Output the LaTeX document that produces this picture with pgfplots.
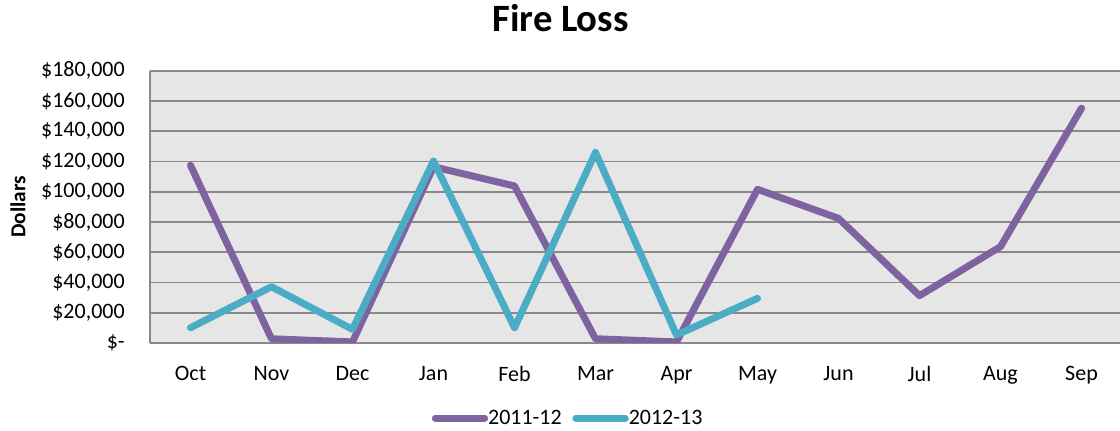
\documentclass[border=0pt]{standalone}
\usepackage{pgfplots}
\pgfplotsset{compat=1.18}
\usepackage{fontspec}
\setmainfont{Carlito}
\definecolor{purp}{HTML}{7F63A1}
\definecolor{teal2}{HTML}{4BACC6}
\definecolor{gridc}{HTML}{898989}
\definecolor{bgc}{HTML}{E6E6E6}
\begin{document}
\begin{tikzpicture}
\begin{axis}[
  at={(0pt,0pt)}, anchor=south west,
  scale only axis,
  width=727.5pt, height=204.2pt,
  xmin=-0.5, xmax=11.475,
  ymin=0, ymax=180000,
  scaled y ticks=false,
  axis x line*=bottom, axis y line*=left,
  axis line style={gridc, line width=1.2pt, -},
  axis background/.style={fill=bgc},
  ymajorgrids, grid style={gridc, line width=1.2pt},
  xtick={0,...,11},
  xticklabels={Oct,Nov,Dec,Jan,Feb,Mar,Apr,May,Jun,Jul,Aug,Sep},
  ytick={0,20000,...,180000},
  yticklabels={{\$-\hspace{9.4pt}},{\$20,000},{\$40,000},{\$60,000},{\$80,000},{\$100,000},{\$120,000},{\$140,000},{\$160,000},{\$180,000}},
  tick style={draw=none},
  ticklabel style={font=\fontsize{16.5}{19}\selectfont},
  yticklabel style={anchor=east, inner sep=0pt, xshift=-18.75pt},
  xticklabel style={anchor=north, inner sep=0pt, yshift=-17pt},
  ylabel={Dollars},
  ylabel style={at={(axis description cs:-0.1361,0.5)}, anchor=center, font=\bfseries\fontsize{16}{19}\selectfont, inner sep=0pt},
  legend columns=2,
  legend style={at={(axis description cs:0.430,-0.2755)}, anchor=center, draw=none, fill=none,
    font=\fontsize{16.5}{19}\selectfont, inner sep=0pt,
    nodes={inner sep=0pt},
    /tikz/every even column/.append style={column sep=8pt}},
  legend image code/.code={\draw[#1, line width=5.25pt, line cap=round] (2.6pt,0pt) -- (35pt,0pt); \path (0pt,0pt) -- (37pt,0pt);},
  line join=round,
]
\addplot[purp, line width=5.25pt, line cap=round] coordinates {
(0,117500) (1,2800) (2,700) (3,116500) (4,103800) (5,2800) (6,700) (7,101600) (8,82400) (9,31300) (10,63700) (11,155200)};
\addlegendentry{2011-12}
\addplot[teal2, line width=5.25pt, line cap=round] coordinates {
(0,10100) (1,37200) (2,9000) (3,120300) (4,10100) (5,126000) (6,5300) (7,29500)};
\addlegendentry{2012-13}
\end{axis}
\node[anchor=base, inner sep=0pt, font=\bfseries\fontsize{29}{34}\selectfont] at (307.9pt,233.25pt) {Fire Loss};
\pgfresetboundingbox
\path (-112.5pt,-66pt) rectangle (727.5pt,257.25pt);
\end{tikzpicture}
\end{document}
